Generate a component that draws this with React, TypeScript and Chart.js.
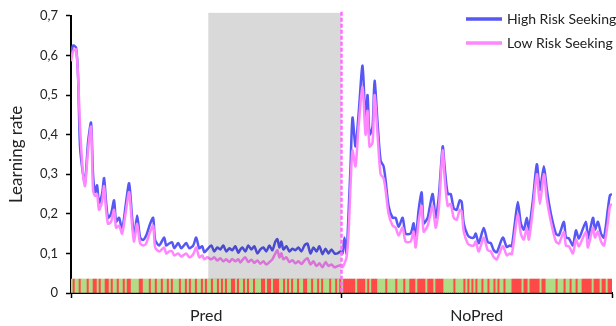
import React, { useEffect, useRef } from 'react';
import { Chart, registerables } from 'chart.js';

Chart.register(...registerables);

// ---- data ----
const trials = [
  0, 1, 2.5, 3.5, 4.5, 6, 7, 8.5, 10, 11,
  12, 13, 14, 15.5, 16.5, 17.5, 18.5, 20, 21.5, 22.5,
  24, 25.5, 27.5, 29, 30.5, 31.5, 33, 34.5, 36, 37.5,
  39.5, 41, 42, 44, 46.5, 47.5, 49, 50.5, 51.5, 53.5,
  55, 57.5, 59, 61, 62.5, 64, 65.5, 66.5, 68, 70,
  71.5, 73, 74.5, 76, 77.5, 79, 80.5, 82, 83.5, 84.5,
  85.5, 87, 88.5, 90, 91.5, 93, 94.5, 96, 97.5, 99,
  100.5, 102, 103, 104, 105, 106, 107.5, 109, 110.5, 112,
  113.5, 115, 116.5, 118, 119.5, 121, 122.5, 124, 125.5, 127,
  128.5, 130, 131.5, 133, 134.5, 135.5, 136.5, 137.5, 138.5, 139.5,
  140.5, 142, 143.5, 145.5, 147, 148, 149, 150.5, 151.5, 153,
  154.5, 156, 157, 158.5, 160.5, 162, 163.5, 165.5, 167, 169.5,
  171, 172, 173.5, 175, 176, 178, 179, 180.5, 182, 183.5,
  185.5, 186.5, 188, 189.5, 191, 192.5, 194, 195, 196, 198,
  199.5, 201, 202, 203.5, 206, 208, 209.5, 211, 212.5, 215.5,
  217.5, 219, 220, 221.5, 223, 224.5, 226, 227.5, 228.5, 230.5,
  232.5, 234, 236, 237.5, 239.5, 242, 243.5, 246, 247, 248.5,
  250.5, 252, 253.5, 257, 258, 260.5, 261.5, 263, 264.5, 266,
  268, 269, 270,
];

const highRisk = [
  0.60, 0.625, 0.62, 0.55, 0.37, 0.30, 0.277, 0.38, 0.43, 0.30,
  0.255, 0.272, 0.227, 0.25, 0.29, 0.23, 0.19, 0.20, 0.234, 0.18,
  0.19, 0.16, 0.23, 0.277, 0.19, 0.14, 0.196, 0.14, 0.134, 0.145,
  0.175, 0.19, 0.134, 0.12, 0.14, 0.12, 0.125, 0.128, 0.113, 0.126,
  0.113, 0.126, 0.113, 0.12, 0.14, 0.113, 0.118, 0.103, 0.11, 0.12,
  0.105, 0.115, 0.11, 0.12, 0.105, 0.113, 0.108, 0.118, 0.102, 0.11,
  0.115, 0.105, 0.12, 0.11, 0.118, 0.10, 0.11, 0.115, 0.105, 0.12,
  0.108, 0.13, 0.136, 0.115, 0.13, 0.11, 0.118, 0.105, 0.112, 0.108,
  0.115, 0.105, 0.12, 0.125, 0.10, 0.115, 0.105, 0.118, 0.098, 0.112,
  0.10, 0.11, 0.10, 0.10, 0.105, 0.10, 0.14, 0.10, 0.20, 0.32,
  0.443, 0.37, 0.45, 0.574, 0.43, 0.50, 0.40, 0.42, 0.536, 0.43,
  0.335, 0.32, 0.285, 0.22, 0.19, 0.19, 0.167, 0.19, 0.15, 0.15,
  0.176, 0.134, 0.21, 0.254, 0.176, 0.19, 0.216, 0.25, 0.19, 0.24,
  0.37, 0.317, 0.25, 0.25, 0.214, 0.21, 0.234, 0.23, 0.176, 0.146,
  0.14, 0.14, 0.15, 0.126, 0.164, 0.128, 0.126, 0.108, 0.103, 0.14,
  0.116, 0.12, 0.118, 0.176, 0.23, 0.176, 0.16, 0.19, 0.16, 0.234,
  0.325, 0.26, 0.32, 0.26, 0.20, 0.15, 0.146, 0.18, 0.14, 0.138,
  0.12, 0.158, 0.138, 0.18, 0.138, 0.19, 0.16, 0.18, 0.15, 0.14,
  0.214, 0.247, 0.25,
];

const lowRisk = [
  0.585, 0.61, 0.615, 0.55, 0.42, 0.30, 0.27, 0.36, 0.42, 0.26,
  0.245, 0.25, 0.21, 0.23, 0.27, 0.21, 0.175, 0.18, 0.21, 0.165,
  0.17, 0.15, 0.21, 0.255, 0.17, 0.13, 0.175, 0.125, 0.12, 0.125,
  0.155, 0.17, 0.115, 0.105, 0.115, 0.10, 0.105, 0.105, 0.095, 0.10,
  0.092, 0.10, 0.09, 0.098, 0.115, 0.09, 0.095, 0.085, 0.09, 0.085,
  0.09, 0.082, 0.088, 0.08, 0.085, 0.078, 0.086, 0.08, 0.085, 0.077,
  0.083, 0.09, 0.078, 0.084, 0.076, 0.082, 0.074, 0.08, 0.072, 0.078,
  0.085, 0.10, 0.108, 0.09, 0.10, 0.085, 0.09, 0.078, 0.083, 0.075,
  0.08, 0.073, 0.082, 0.088, 0.072, 0.08, 0.068, 0.075, 0.065, 0.078,
  0.068, 0.072, 0.065, 0.068, 0.07, 0.065, 0.075, 0.09, 0.15, 0.27,
  0.36, 0.32, 0.42, 0.52, 0.40, 0.46, 0.37, 0.38, 0.50, 0.40,
  0.30, 0.29, 0.26, 0.20, 0.17, 0.165, 0.145, 0.165, 0.13, 0.13,
  0.155, 0.115, 0.18, 0.22, 0.155, 0.17, 0.19, 0.22, 0.165, 0.21,
  0.36, 0.29, 0.22, 0.225, 0.19, 0.185, 0.21, 0.205, 0.155, 0.125,
  0.12, 0.12, 0.13, 0.105, 0.14, 0.108, 0.105, 0.09, 0.085, 0.118,
  0.095, 0.10, 0.098, 0.15, 0.20, 0.15, 0.135, 0.165, 0.135, 0.21,
  0.30, 0.225, 0.30, 0.235, 0.18, 0.13, 0.125, 0.155, 0.12, 0.118,
  0.10, 0.135, 0.118, 0.155, 0.115, 0.165, 0.14, 0.155, 0.13, 0.12,
  0.18, 0.22, 0.225,
];

const seriesNames = ['High Risk Seeking', 'Low Risk Seeking'];
const phaseLabels = ['Pred', 'NoPred'];
const phaseBounds = [0, 135, 270];
const shadedTrials = [68.5, 135];
const trialCount = 270;
// trial ranges (inclusive) with a red outcome; all other trials are green
const redRuns: number[][] = [
  [1, 1], [4, 4], [8, 8], [11, 12], [14, 14], [17, 18], [20, 20], [23, 23], [26, 26], [28, 29],
  [34, 35], [39, 39], [42, 42], [45, 45], [48, 48], [50, 50], [54, 54], [57, 57], [59, 59], [62, 62],
  [65, 65], [67, 67], [70, 70], [73, 73], [75, 75], [77, 77], [80, 81], [83, 83], [86, 86], [88, 88],
  [91, 91], [95, 96], [98, 99], [101, 103], [106, 106], [108, 108], [110, 110], [113, 113], [116, 117],
  [120, 120], [123, 123], [125, 125], [129, 129], [132, 132], [134, 134],
  [136, 141], [143, 146], [148, 148], [150, 152],
  [157, 157], [162, 162], [166, 166],
  [169, 171], [173, 176], [178, 180], [182, 185],
  [191, 191], [196, 196], [198, 198], [200, 200], [202, 202], [205, 205], [208, 208], [211, 211], [213, 213], [216, 216],
  [220, 224], [226, 227], [229, 233], [235, 236],
  [242, 242], [246, 246], [249, 249], [252, 252],
  [255, 259], [261, 263], [265, 266], [268, 269],
];

// ---- styles ----
const BLUE = '#5757f5';
const PINK = '#ff86ff';
const GREEN = '#b1dc86';
const RED = '#ff4848';
const TEXT = '#222222';
const FONT = 'Lato, "Open Sans", sans-serif';

export default function App() {
  const ref = useRef<HTMLCanvasElement | null>(null);

  useEffect(() => {
    const canvas = ref.current;
    if (!canvas) return;

    const highData = trials.map((t, i) => ({ x: t, y: highRisk[i] }));
    const lowData = trials.map((t, i) => ({ x: t, y: lowRisk[i] }));
    const outcomeBars = Array.from({ length: trialCount }, (_, i) => ({ x: i + 0.5, y: [0, 0.035] }));
    const outcomeColors = outcomeBars.map((_, i) =>
      redRuns.some(([a, b]) => i >= a && i <= b) ? RED : GREEN
    );

    const overlayPlugin = {
      id: 'phaseOverlay',
      afterDatasetsDraw(chart: any) {
        const { ctx, chartArea, scales } = chart;
        const x = scales.x;
        const y = scales.y;
        const x0 = x.getPixelForValue(shadedTrials[0]);
        const x1 = x.getPixelForValue(shadedTrials[1]);
        const top = chartArea.top - 3;
        const bottom = y.getPixelForValue(0.035);
        ctx.save();
        ctx.fillStyle = 'rgba(0,0,0,0.15)';
        ctx.fillRect(x0, top, x1 - x0, bottom - top);
        // divider
        const xd = x.getPixelForValue(phaseBounds[1]);
        ctx.strokeStyle = '#ff6cff';
        ctx.lineWidth = 2.5;
        ctx.setLineDash([4, 2]);
        ctx.beginPath();
        ctx.moveTo(xd, chartArea.top - 4);
        ctx.lineTo(xd, chartArea.bottom);
        ctx.stroke();
        ctx.restore();
      },
      afterDraw(chart: any) {
        const { ctx } = chart;
        const items = [
          { label: seriesNames[0], color: BLUE, y: 19 },
          { label: seriesNames[1], color: PINK, y: 43 },
        ];
        ctx.save();
        ctx.font = `14px ${FONT}`;
        ctx.textBaseline = 'middle';
        ctx.fillStyle = TEXT;
        items.forEach((it) => {
          ctx.strokeStyle = it.color;
          ctx.lineWidth = 3.5;
          ctx.beginPath();
          ctx.moveTo(466, it.y);
          ctx.lineTo(502, it.y);
          ctx.stroke();
          ctx.fillText(it.label, 507, it.y);
        });
        ctx.restore();
      },
    };

    const chart = new Chart(canvas, {
      type: 'line',
      data: {
        datasets: [
          {
            label: seriesNames[1],
            data: lowData,
            borderColor: PINK,
            borderWidth: 2.5,
            pointRadius: 0,
            tension: 0.25,
            fill: false,
          },
          {
            label: seriesNames[0],
            data: highData,
            borderColor: BLUE,
            borderWidth: 2.5,
            pointRadius: 0,
            tension: 0.25,
            fill: false,
          },
          {
            type: 'bar',
            label: 'Outcome',
            data: outcomeBars as any,
            backgroundColor: outcomeColors,
            borderWidth: 0,
            barPercentage: 1,
            categoryPercentage: 1,
          } as any,
        ],
      },
      options: {
        responsive: false,
        animation: false,
        events: [],
        layout: { padding: { top: 15, right: 4, left: 0, bottom: 0 } },
        plugins: {
          legend: { display: false },
          tooltip: { enabled: false },
        },
        scales: {
          x: {
            type: 'linear',
            min: phaseBounds[0],
            max: phaseBounds[2],
            offset: false,
            afterBuildTicks: (scale: any) => {
              scale.ticks = [
                phaseBounds[0],
                (phaseBounds[0] + phaseBounds[1]) / 2,
                phaseBounds[1],
                (phaseBounds[1] + phaseBounds[2]) / 2,
                phaseBounds[2],
              ].map((v) => ({ value: v }));
            },
            afterFit: (scale: any) => {
              scale.height = 33;
            },
            ticks: {
              autoSkip: false,
              maxRotation: 0,
              padding: 4,
              color: TEXT,
              font: { family: FONT, size: 16, lineHeight: 1.7 },
              callback: (v: any) => {
                const val = Number(v);
                if (val === (phaseBounds[0] + phaseBounds[1]) / 2) return phaseLabels[0];
                if (val === (phaseBounds[1] + phaseBounds[2]) / 2) return phaseLabels[1];
                return '';
              },
            },
            grid: {
              display: true,
              offset: false,
              drawOnChartArea: false,
              drawTicks: true,
              tickLength: 5,
              tickWidth: 1.5,
              tickColor: (c: any) =>
                c.tick && phaseBounds.includes(c.tick.value) ? '#000' : 'rgba(0,0,0,0)',
            },
            border: { display: true, color: '#000', width: 2 },
          },
          y: {
            min: 0,
            max: 0.7,
            afterFit: (scale: any) => {
              scale.width = 71;
            },
            ticks: {
              stepSize: 0.1,
              padding: 8,
              color: TEXT,
              font: { family: FONT, size: 13 },
              callback: (v: any) => {
                const val = Number(v);
                if (Math.abs(val) < 1e-9) return '0';
                return val.toFixed(1).replace('.', ',');
              },
            },
            grid: {
              display: true,
              drawOnChartArea: false,
              drawTicks: true,
              tickLength: 5,
              tickWidth: 1.5,
              tickColor: '#000',
            },
            border: { display: true, color: '#000', width: 2 },
            title: {
              display: true,
              text: 'Learning rate',
              color: TEXT,
              font: { family: FONT, size: 17 },
              padding: { top: 6, bottom: 0 },
            },
          },
        },
      },
      plugins: [overlayPlugin],
    });

    return () => chart.destroy();
  }, []);

  return (
    <div style={{ position: 'fixed', left: 0, top: 0, width: 616, height: 326, background: '#fff' }}>
      <canvas ref={ref} width={616} height={326} style={{ display: 'block' }} />
    </div>
  );
}
